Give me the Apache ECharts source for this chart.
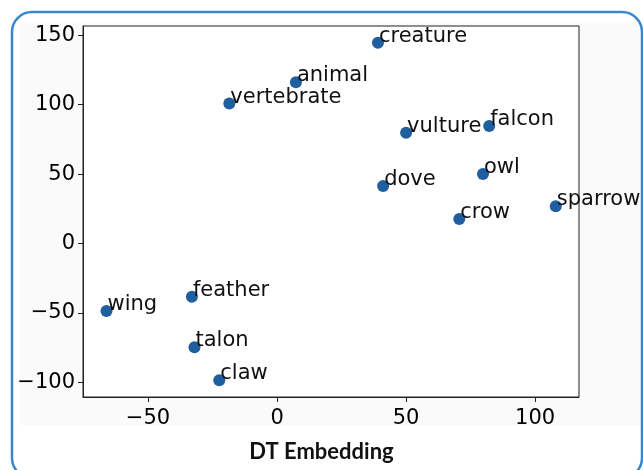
<!DOCTYPE html>
<html>
<head>
<meta charset="utf-8">
<script src="https://cdn.jsdelivr.net/npm/echarts@6/dist/echarts.min.js"></script>
<style>
html,body{margin:0;padding:0;background:#fff;}
#chart{width:643px;height:470px;}
</style>
</head>
<body>
<div id="chart"></div>
<script>
const words = ['creature','animal','vertebrate','vulture','falcon','dove','owl','crow','sparrow','feather','wing','talon','claw'];
const xValues = [39.1, 7.3, -18.5, 50.0, 82.2, 41.1, 79.8, 70.6, 108.0, -33.0, -66.1, -32.0, -22.4];
const yValues = [144.6, 116.1, 100.8, 79.8, 84.7, 41.4, 50.1, 17.7, 26.8, -38.3, -48.6, -74.8, -98.6];
const xTicks = [-50, 0, 50, 100];
const yTicks = [-100, -50, 0, 50, 100, 150];
const xRange = [-75.2, 117.0];
const yRange = [-110.6, 156.7];
const title = 'DT Embedding';

const fmt = v => String(v).replace('-', '\u2212');
const chart = echarts.init(document.getElementById('chart'), null, {renderer: 'canvas'});
const tickFont = {fontFamily: 'DejaVu Sans', fontSize: 21, color: '#000'};
chart.setOption({
  animation: false,
  backgroundColor: '#fff',
  graphic: [
    {type: 'rect', shape: {x: 20, y: 22, width: 640, height: 403}, style: {fill: '#fafafa'}, z: -10},
    {type: 'rect', shape: {x: 12, y: 12, width: 630, height: 466, r: 20}, style: {fill: 'none', stroke: '#3a87cc', lineWidth: 2.5}, z: 10},
    {type: 'text', left: 'center', top: 441, style: {text: title, font: 'bold 22px Lato', fill: '#111'}}
  ],
  grid: {left: 83, right: 64, top: 26, bottom: 73, show: true, backgroundColor: '#fff', borderColor: '#222', borderWidth: 1},
  xAxis: {
    type: 'value', min: xRange[0], max: xRange[1],
    axisLine: {show: true, onZero: false, lineStyle: {color: '#222', width: 1}},
    axisTick: {show: true, length: 5, customValues: xTicks, lineStyle: {color: '#222'}},
    axisLabel: Object.assign({customValues: xTicks, formatter: fmt, margin: 11}, tickFont),
    splitLine: {show: false}
  },
  yAxis: {
    type: 'value', min: yRange[0], max: yRange[1],
    axisLine: {show: true, onZero: false, lineStyle: {color: '#222', width: 1}},
    axisTick: {show: true, length: 5, customValues: yTicks, lineStyle: {color: '#222'}},
    axisLabel: Object.assign({customValues: yTicks, formatter: fmt, margin: 8}, tickFont),
    splitLine: {show: false}
  },
  series: [{
    type: 'scatter',
    symbolSize: 12,
    itemStyle: {color: '#1f5fa0', opacity: 1},
    data: words.map((w, i) => ({name: w, value: [xValues[i], yValues[i]]})),
    label: {
      show: true,
      formatter: p => p.name,
      position: [7, 10],
      align: 'left',
      verticalAlign: 'bottom',
      fontFamily: 'DejaVu Sans',
      fontSize: 21,
      color: '#111'
    },
    labelLayout: {hideOverlap: false}
  }]
});
</script>
</body>
</html>
